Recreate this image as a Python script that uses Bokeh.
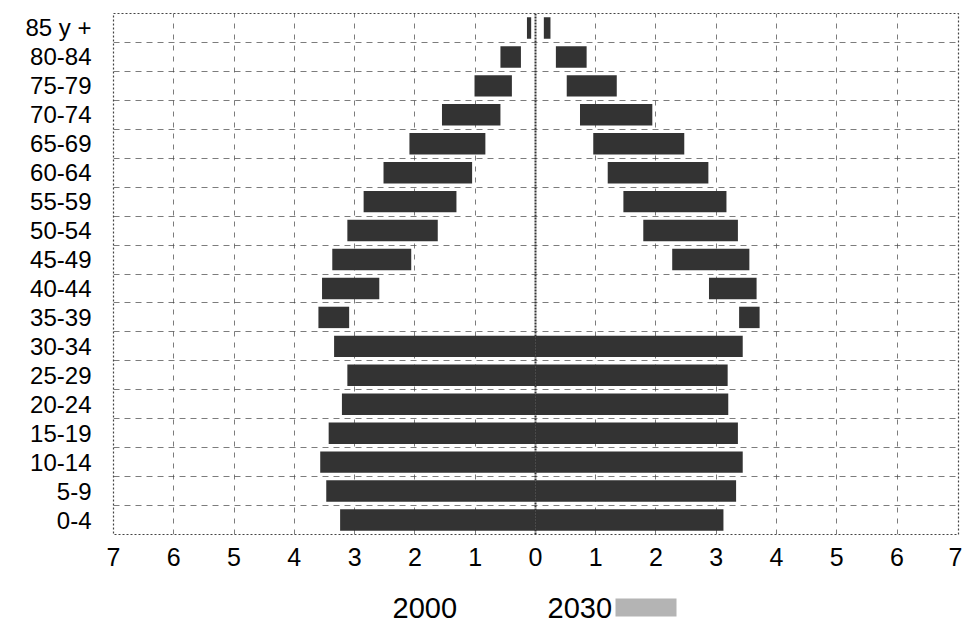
from bokeh.plotting import figure
from bokeh.models import Range1d, FixedTicker, ColumnDataSource
from bokeh.layouts import column
from bokeh.embed import file_html
from bokeh.resources import INLINE
from bokeh.core.properties import value

# ---- data ----
age_groups = ["0-4", "5-9", "10-14", "15-19", "20-24", "25-29", "30-34",
              "35-39", "40-44", "45-49", "50-54", "55-59", "60-64",
              "65-69", "70-74", "75-79", "80-84", "85 y +"]

# left side (2000): outer and inner ends of each bar (absolute values)
left_outer = [3.24, 3.47, 3.57, 3.43, 3.21, 3.12, 3.34,
              3.60, 3.54, 3.37, 3.12, 2.85, 2.52,
              2.09, 1.55, 1.01, 0.58, 0.14]
left_inner = [0.00, 0.00, 0.00, 0.00, 0.00, 0.00, 0.00,
              3.09, 2.59, 2.06, 1.62, 1.31, 1.05,
              0.83, 0.58, 0.39, 0.24, 0.07]

# right side (2030)
right_inner = [0.00, 0.00, 0.00, 0.00, 0.00, 0.00, 0.00,
               3.38, 2.88, 2.27, 1.79, 1.46, 1.20,
               0.96, 0.74, 0.52, 0.34, 0.14]
right_outer = [3.12, 3.33, 3.44, 3.36, 3.20, 3.19, 3.44,
               3.72, 3.67, 3.55, 3.36, 3.17, 2.87,
               2.47, 1.94, 1.35, 0.85, 0.25]

x_ticks = [-7, -6, -5, -4, -3, -2, -1, 0, 1, 2, 3, 4, 5, 6, 7]
series_names = ["2000", "2030"]

FONT = "Liberation Sans"
BAR = "#333333"

ypos = [i + 0.5 for i in range(len(age_groups))]

src = ColumnDataSource(dict(
    y=ypos,
    l_left=[-v for v in left_outer],
    l_right=[-v for v in left_inner],
    r_left=right_inner,
    r_right=right_outer,
))

p = figure(width=962, height=580, output_backend="svg", toolbar_location=None,
           x_range=Range1d(-7.0, 7.02), y_range=Range1d(0, len(age_groups)),
           min_border_left=113, min_border_right=4, min_border_top=13,
           min_border_bottom=46)
p.background_fill_color = "white"
p.border_fill_color = "white"
p.outline_line_color = "#444444"
p.outline_line_dash = "2 2"
p.outline_line_width = 1.2

p.hbar(y="y", left="l_left", right="l_right", height=0.74, source=src,
       fill_color=BAR, line_color=None)
p.hbar(y="y", left="r_left", right="r_right", height=0.74, source=src,
       fill_color=BAR, line_color=None)

# zero line
p.vspan(x=[0], line_color="#333333", line_width=2, line_dash="2 1")

# axes
p.xaxis.ticker = FixedTicker(ticks=x_ticks)
p.xaxis.major_label_overrides = {t: str(abs(t)) for t in x_ticks}
p.yaxis.ticker = FixedTicker(ticks=ypos)
p.yaxis.major_label_overrides = {y: g for y, g in zip(ypos, age_groups)}
for ax in (p.xaxis[0], p.yaxis[0]):
    ax.axis_line_color = None
    ax.major_tick_line_color = None
    ax.minor_tick_line_color = None
    ax.major_tick_out = 0
    ax.major_tick_in = 0
    ax.major_label_text_font = FONT
    ax.major_label_text_color = "black"
p.xaxis.major_label_text_font_size = "25px"
p.xaxis.major_label_standoff = 13
p.yaxis.major_label_text_font_size = "24px"
p.yaxis.major_label_standoff = 22

# grid: dashed lines at units and between age groups
p.xgrid.ticker = FixedTicker(ticks=[t for t in x_ticks if t not in (-7, 0, 7)])
p.xgrid.grid_line_color = "#444444"
p.xgrid.grid_line_dash = "5 6"
p.xgrid.grid_line_alpha = 0.7
p.ygrid.ticker = FixedTicker(ticks=list(range(1, len(age_groups))))
p.ygrid.grid_line_color = "#444444"
p.ygrid.grid_line_dash = "6 5"
p.ygrid.grid_line_alpha = 0.7

# ---- legend strip below (frame aligned with the chart's frame) ----
leg = figure(width=962, height=46, output_backend="svg", toolbar_location=None,
             x_range=Range1d(113, 958), y_range=Range1d(0, 46),
             min_border_left=113, min_border_right=4,
             min_border_top=0, min_border_bottom=0)
leg.axis.visible = False
leg.grid.visible = False
leg.outline_line_color = None
leg.text(x=[392, 547], y=[19, 19], text=series_names,
         text_font=value(FONT), text_font_size="29px",
         text_baseline="middle", text_align="left", text_color="black")
leg.quad(left=[615], right=[676], bottom=[10], top=[28],
         fill_color="#b4b4b4", line_color=None)

layout = column(p, leg, spacing=0)
open("out.html", "w").write(file_html(layout, INLINE))
